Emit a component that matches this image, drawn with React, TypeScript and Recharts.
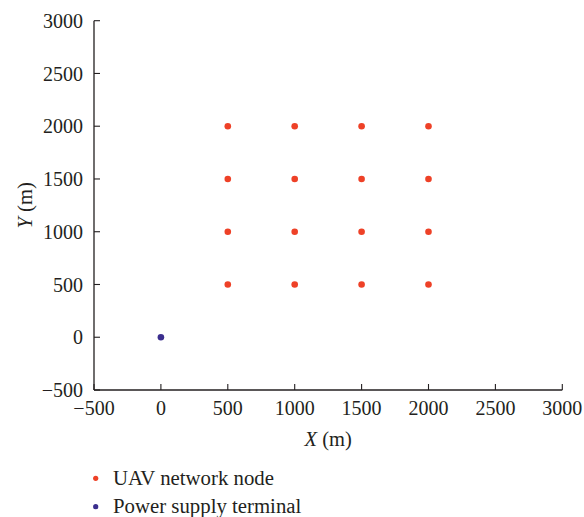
import React from 'react';
import { ScatterChart, Scatter, XAxis, YAxis, Legend } from 'recharts';

const uavNodes = [
  { x: 500, y: 500 }, { x: 1000, y: 500 }, { x: 1500, y: 500 }, { x: 2000, y: 500 },
  { x: 500, y: 1000 }, { x: 1000, y: 1000 }, { x: 1500, y: 1000 }, { x: 2000, y: 1000 },
  { x: 500, y: 1500 }, { x: 1000, y: 1500 }, { x: 1500, y: 1500 }, { x: 2000, y: 1500 },
  { x: 500, y: 2000 }, { x: 1000, y: 2000 }, { x: 1500, y: 2000 }, { x: 2000, y: 2000 },
];
const powerTerminal = [{ x: 0, y: 0 }];
const seriesNames = ['UAV network node', 'Power supply terminal'];
const xTicks = [-500, 0, 500, 1000, 1500, 2000, 2500, 3000];
const yTicks = [-500, 0, 500, 1000, 1500, 2000, 2500, 3000];

const FONT = '"Liberation Serif", "Times New Roman", serif';
const INK = '#231f20';
const RED = '#ee4127';
const BLUE = '#3b2e8e';

const fmt = (v: number) => String(v).replace('-', '\u2212');

const dot = (color: string) => (props: any) => (
  <circle cx={props.cx} cy={props.cy} r={3.3} fill={color} />
);

const XLabel = (props: any) => {
  const vb = props.viewBox || {};
  return (
    <text x={vb.x + vb.width / 2} y={vb.y + 56} textAnchor="middle" fontFamily={FONT} fontSize={20.5} fill={INK}>
      <tspan fontStyle="italic">X</tspan>
      <tspan> (m)</tspan>
    </text>
  );
};

const YLabel = (props: any) => {
  const vb = props.viewBox || {};
  const cx = 32;
  const cy = vb.y + vb.height / 2;
  return (
    <text x={cx} y={cy} transform={`rotate(-90, ${cx}, ${cy})`} textAnchor="middle" fontFamily={FONT} fontSize={20.5} fill={INK}>
      <tspan fontStyle="italic">Y</tspan>
      <tspan> (m)</tspan>
    </text>
  );
};

const LegendContent = (props: any) => {
  const payload = [...(props.payload || [])].sort(
    (a: any, b: any) => seriesNames.indexOf(a.value) - seriesNames.indexOf(b.value)
  );
  return (
    <div style={{ height: 77, width: 400, position: 'relative' }}>
      <svg width={400} height={77} style={{ display: 'block' }}>
        {payload.map((p: any, i: number) => (
          <g key={i}>
            <circle cx={95.7} cy={38.3 + i * 28.4} r={2.6} fill={p.color} />
            <text x={113} y={45 + i * 28.4} fontFamily={FONT} fontSize={20.8} fill={INK}>
              {p.value}
            </text>
          </g>
        ))}
      </svg>
    </div>
  );
};

export default function App() {
  return (
    <div style={{ position: 'absolute', left: 0, top: 0, width: 584, height: 517, overflow: 'hidden' }}>
      <ScatterChart
        width={584}
        height={517}
        margin={{ top: 20.7, right: 21.7, bottom: 0, left: 0 }}
      >
        <XAxis
          type="number"
          dataKey="x"
          domain={[-500, 3000]}
          ticks={xTicks}
          tickFormatter={fmt}
          height={50}
          tickSize={-6}
          tickMargin={17}
          axisLine={{ stroke: INK, strokeWidth: 1.3 }}
          tickLine={{ stroke: INK, strokeWidth: 1.1 }}
          tick={{ fontFamily: FONT, fontSize: 20, fill: INK }}
          label={<XLabel />}
          interval={0}
        />
        <YAxis
          type="number"
          dataKey="y"
          domain={[-500, 3000]}
          ticks={yTicks}
          tickFormatter={fmt}
          width={94}
          tickSize={-6}
          tickMargin={17}
          axisLine={{ stroke: INK, strokeWidth: 1.3 }}
          tickLine={{ stroke: INK, strokeWidth: 1.1 }}
          tick={{ fontFamily: FONT, fontSize: 20, fill: INK }}
          label={<YLabel />}
          interval={0}
        />
        <Legend verticalAlign="bottom" align="left" content={<LegendContent />} />
        <Scatter name={seriesNames[0]} data={uavNodes} fill={RED} shape={dot(RED)} isAnimationActive={false} />
        <Scatter name={seriesNames[1]} data={powerTerminal} fill={BLUE} shape={dot(BLUE)} isAnimationActive={false} />
      </ScatterChart>
    </div>
  );
}
